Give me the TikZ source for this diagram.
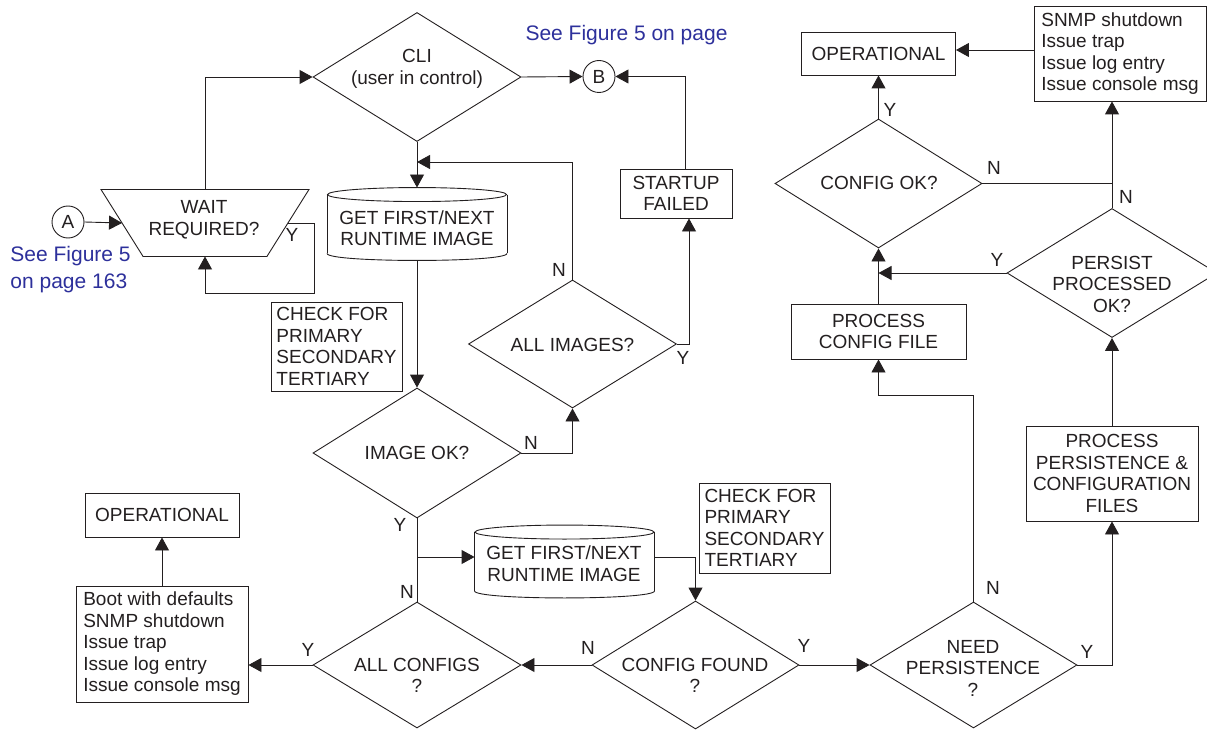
\documentclass[tikz,border=0pt]{standalone}
\usepackage{fontspec}
\setmainfont{Liberation Sans}
\usetikzlibrary{arrows.meta,shapes.geometric,calc}
\definecolor{linkblue}{RGB}{45,48,155}
\definecolor{ink}{RGB}{35,31,32}
\newcommand\cylout[1]{%
  \draw ($(#1.north)+(0,7)$) ellipse [x radius=89.5, y radius=7];
  \draw ($(#1.north west)+(0,7)$) -- ($(#1.south west)+(0,-7)$);
  \draw ($(#1.north east)+(0,7)$) -- ($(#1.south east)+(0,-7)$);
  \draw ($(#1.south west)+(0,-7)$) .. controls ($(#1.south west)+(0,2.33)$) and ($(#1.south east)+(0,2.33)$) .. ($(#1.south east)+(0,-7)$);}
\begin{document}
\begin{tikzpicture}[x=1pt,y=-1pt,
  font=\fontsize{19}{21.5}\selectfont,
  color=ink, line width=0.9pt,
  box/.style={draw, rectangle, inner sep=0pt, align=center},
  dia/.style={draw, diamond, inner sep=0pt, minimum width=208pt, minimum height=129pt},
  txt/.style={inner sep=0pt, align=center},
  lbl/.style={inner sep=0pt},
  bluetxt/.style={inner sep=0pt, text=linkblue, font=\fontsize{21}{27}\selectfont},
  circ/.style={draw, circle, inner sep=0pt, minimum size=32pt},
  cylbox/.style={rectangle, inner sep=0pt, minimum width=179pt, minimum height=72pt},
  arr/.style={-{Triangle[length=13pt,width=14pt]}}]
\useasboundingbox (0,0) rectangle (1207,730);

% left part
\node[circ] (a) at (68,222) {A};
\node[inner sep=0pt, minimum width=165pt, minimum height=66pt] (wait) at (205,223) {};
\draw ($(wait.north west)+(-21,0)$) -- ($(wait.north east)+(21,0)$) -- ($(wait.south east)+(-21,0)$) -- ($(wait.south west)+(21,0)$) -- cycle;
\node[txt] (waittxt) at (204,220) {WAIT\\REQUIRED?};
\node[bluetxt, align=left, anchor=west] (seeA) at (10,269.5) {See Figure 5\\on page 163};

\node[dia] (cli) at (417,77) {};
\node[txt] (clitxt) at (417,69) {CLI\\(user in control)};
\node[circ] (b) at (599,76.5) {B};
\node[bluetxt] (seeB) at (626.5,35) {See Figure 5 on page};
\node[box, minimum width=112pt, minimum height=49pt] (startup) at (676,193.5) {STARTUP\\FAILED};

\node[cylbox] (cyl1) at (417,224) {};
\cylout{cyl1}
\node[txt] (cyl1txt) at (417,228) {GET FIRST/NEXT\\RUNTIME IMAGE};

\node[box, align=left, minimum width=131pt, minimum height=89pt] (chk1) at (336.5,346.5) {CHECK FOR\\PRIMARY\\SECONDARY\\TERTIARY};
\node[dia, minimum height=128pt] (allimg) at (572.5,344) {};
\node[txt] (allimgtxt) at (572.5,345) {ALL IMAGES?};
\node[dia, minimum height=130pt] (imgok) at (417,453) {};
\node[txt] (imgoktxt) at (417,453) {IMAGE OK?};
\node[dia, minimum height=126pt] (allcfg) at (417,665) {};
\node[txt] (allcfgtxt) at (417,675.5) {ALL CONFIGS\\?};

\node[cylbox] (cyl2) at (564.5,561.5) {};
\cylout{cyl2}
\node[txt] (cyl2txt) at (564,563.5) {GET FIRST/NEXT\\RUNTIME IMAGE};
\node[box, align=left, minimum width=131pt, minimum height=90pt] (chk2) at (764.5,528) {CHECK FOR\\PRIMARY\\SECONDARY\\TERTIARY};
\node[dia, minimum width=207pt, minimum height=128pt] (cfgfound) at (695.5,665) {};
\node[txt] (cfgfoundtxt) at (695,675.5) {CONFIG FOUND\\?};

\node[box, align=left, minimum width=172pt, minimum height=116pt] (boot) at (162,644) {Boot with defaults\\SNMP shutdown\\Issue trap\\Issue log entry\\Issue console msg};
\node[box, minimum width=154pt, minimum height=44pt] (op1) at (162,515) {OPERATIONAL};

% right part
\node[dia, minimum width=207pt, minimum height=126pt] (need) at (973.5,665) {};
\node[txt] (needtxt) at (973,668) {NEED\\PERSISTENCE\\?};
\node[box, minimum width=172pt, minimum height=95pt] (pp) at (1112,473.5) {PROCESS\\PERSISTENCE \&\\CONFIGURATION\\FILES};
\node[box, minimum width=175pt, minimum height=55pt] (pcf) at (878.5,331.5) {PROCESS\\CONFIG FILE};
\node[dia, minimum width=210pt, minimum height=129pt] (persist) at (1112,273) {};
\node[txt] (persisttxt) at (1112,284) {PERSIST\\PROCESSED\\OK?};
\node[dia, minimum width=207pt, minimum height=129pt] (cfgok) at (878.5,183.5) {};
\node[txt] (cfgoktxt) at (879,183) {CONFIG OK?};
\node[box, minimum width=154pt, minimum height=43pt] (op2) at (878.5,53.5) {OPERATIONAL};
\node[box, align=left, minimum width=172pt, minimum height=95pt] (snmp) at (1120,53.5) {SNMP shutdown\\Issue trap\\Issue log entry\\Issue console msg};

% connectors
\draw[arr] (a.east) -- (wait.west);
\draw[arr] (wait.north) |- (cli.west);
\draw[arr] (wait.east) -| ++(26,70) -| (wait.south);
\draw[arr] (cli.east) -- (b.west);
\draw[arr] ([xshift=9pt]startup.north) |- (b.east);
\draw[arr] (cli.south) -- (cyl1.north);
\coordinate (j1) at (417,162);
\draw[arr] (allimg.north) |- (j1);
\draw[arr] (cyl1.south) -- (imgok.north);
\draw[arr] (imgok.east) -| (allimg.south);
\draw[arr] (allimg.east) -| ([xshift=13pt]startup.south);
\draw (imgok.south) -- (allcfg.north);
\coordinate (j2) at (417,557);
\draw[arr] (j2) -- (j2 -| cyl2.west);
\draw[arr] (cyl2.east |- j2) -| (cfgfound.north);
\draw[arr] (cfgfound.west) -- (allcfg.east);
\draw[arr] (allcfg.west) -- (allcfg.west -| boot.east);
\draw[arr] (boot.north) -- (op1.south);
\draw[arr] (cfgfound.east) -- (need.west);
\coordinate (j3) at (973.5,395);
\draw[arr] (need.north) -- (j3) -| (pcf.south);
\draw[arr] (need.east) -| (pp.south);
\draw[arr] (pp.north) -- (persist.south);
\draw[arr] (persist.west) -- (persist.west -| pcf.north);
\draw[arr] (pcf.north) -- (cfgok.south);
\draw[arr] (cfgok.north) -- (op2.south);
\draw (cfgok.east) -- (cfgok.east -| persist.north);
\draw[arr] (persist.north) -- (persist.north |- snmp.south);
\draw[arr] ([yshift=3.5pt]snmp.west) -- ([yshift=3.5pt]op2.east);

% labels
\node[lbl] (lw) at (292,235) {Y};
\node[lbl] (l1) at (559,270) {N};
\node[lbl] (l2) at (683,358) {Y};
\node[lbl] (l3) at (531,443) {N};
\node[lbl] (l4) at (400,525) {Y};
\node[lbl] (l5) at (407,592) {N};
\node[lbl] (l6) at (308,650) {Y};
\node[lbl] (l7) at (588,648) {N};
\node[lbl] (l8) at (804,646) {Y};
\node[lbl] (l9) at (993,588) {N};
\node[lbl] (l10) at (1087,652) {Y};
\node[lbl] (l11) at (997,260) {Y};
\node[lbl] (l12) at (1126,197) {N};
\node[lbl] (l13) at (994,168) {N};
\node[lbl] (l14) at (890,110) {Y};
\end{tikzpicture}
\end{document}
